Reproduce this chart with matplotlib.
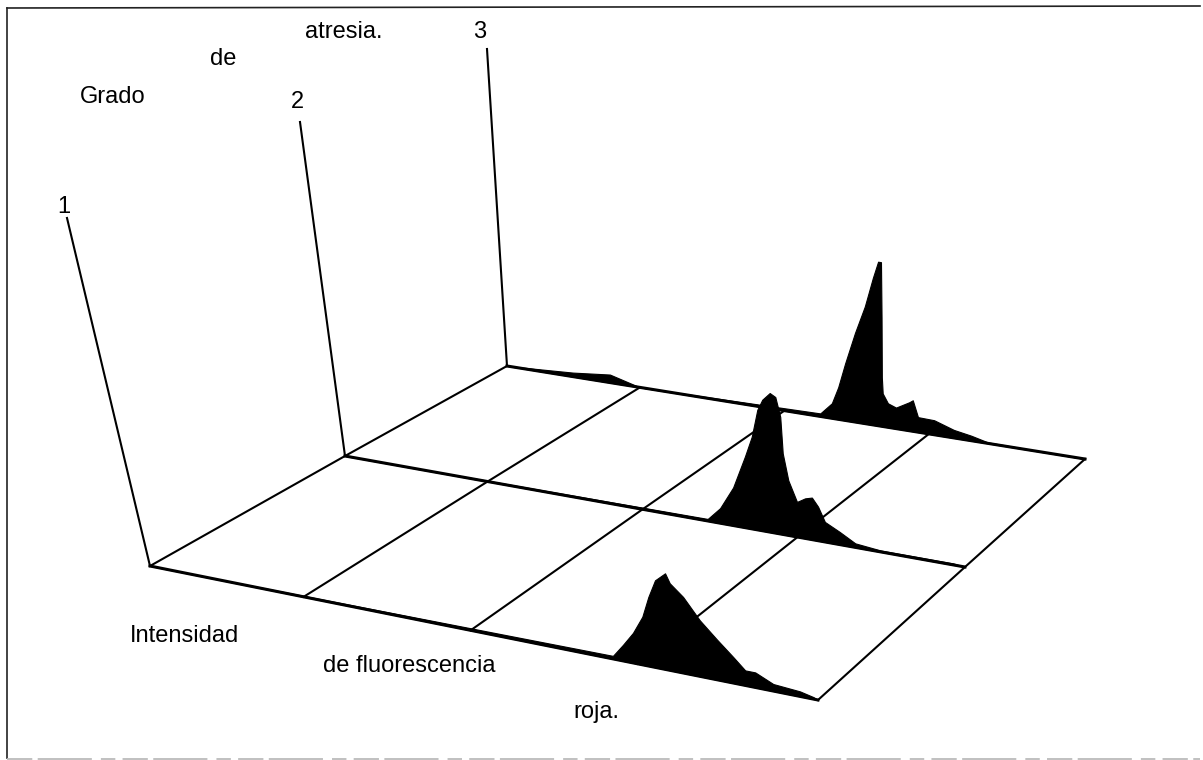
import numpy as np
import matplotlib
matplotlib.use('Agg')
import matplotlib.pyplot as plt

# channel = intensidad de fluorescencia (0-100 along each baseline), counts = peak height
channel_1 = [0, 69.3, 70.8, 72.3, 73.7, 74.6, 75.6, 77.1, 77.8, 79.8, 82.3, 84.9, 87.3, 89.1, 90.6, 93.3, 97.3, 99.3, 100]
counts_1 = [0, 3, 16, 30, 48, 69, 87, 96, 87, 76, 56, 40, 26, 15, 15, 7, 5, 2, 0]

channel_2 = [0, 58.5, 60.5, 62.6, 64.5, 65.6, 66.5, 67.3, 68.5, 69.4, 70.2, 70.6, 71.5, 72.9, 74.2, 75.3, 76.3, 77.4, 79.8, 82.3, 86.3, 98.1, 100]
counts_2 = [0, 2, 15, 38, 71, 92, 120, 131, 139, 136, 117, 81, 55, 35, 40, 42, 34, 20, 12.6, 4, 1.5, 1.5, 0]

channel_3 = [0, 5.7, 11.4, 17.8, 23, 54.2, 56.2, 57.3, 58.5, 60.2, 61.9, 63.3, 64.2, 64.7, 64.8, 64.85, 65.0, 65.9, 67.3, 69.6, 70.2, 71.1, 73.9, 77.3, 80.3, 83.2, 100]
counts_3 = [0, 2, 4, 8, 0, 3, 15, 32, 57, 89, 117, 147, 164, 164, 109, 49, 33, 24, 21, 28.5, 31, 15, 14.5, 8, 5, 1, 0]

grid_channels = [0, 23, 48, 73, 100]
grades = ['1', '2', '3']

# where each grade's baseline sits on the page, and top of its vertical axis
base_start = [(150, 566), (345, 456), (507, 366)]
base_end = [(818, 700), (965, 567), (1085, 459)]
axis_top = [(67, 218), (300, 122), (487, 49)]
grade_label_pos = [(64, 213), (297, 108), (480, 38)]


def project(grade, channel):
    x0, y0 = base_start[grade]
    x1, y1 = base_end[grade]
    t = np.asarray(channel, dtype=float) / 100
    return x0 + (x1 - x0) * t, y0 + (y1 - y0) * t


plt.rcParams['font.family'] = ['Liberation Sans', 'DejaVu Sans']
fig = plt.figure(figsize=(12.03, 7.6), dpi=100)
ax = fig.add_axes([0, 0, 1, 1])
ax.set_xlim(0, 1203)
ax.set_ylim(760, 0)
ax.axis('off')

# frame, the scan loses the bottom edge and the right one
ax.plot([7, 7], [758, 8], color='#222222', lw=1.2)
ax.plot([7, 1200], [8, 6], color='#222222', lw=1.2)
ax.plot([7, 1200], [759, 759], color='#bbbbbb', lw=1.3, dashes=(14, 3, 30, 5, 8, 4))

# floor grid
for c in grid_channels:
    xs, ys = [], []
    for g in range(3):
        x, y = project(g, c)
        xs.append(float(x))
        ys.append(float(y))
    ax.plot(xs, ys, color='black', lw=1.5, zorder=2)

# grade axes
for g in range(3):
    ax.plot([base_start[g][0], axis_top[g][0]], [base_start[g][1], axis_top[g][1]],
            color='black', lw=1.5, zorder=2)
    ax.text(grade_label_pos[g][0], grade_label_pos[g][1], grades[g], fontsize=17,
            ha='center', va='baseline')

# histograms, back to front
for g, channel, counts in [(2, channel_3, counts_3), (1, channel_2, counts_2), (0, channel_1, counts_1)]:
    x, y = project(g, channel)
    ax.fill_between(x, y, y - np.array(counts), color='black', lw=0.8, zorder=3)
    ax.plot(*project(g, [0, 100]), color='black', lw=2.2, zorder=3)

ax.text(80, 103, 'Grado', fontsize=17, ha='left', va='baseline')
ax.text(210, 65, 'de', fontsize=17, ha='left', va='baseline')
ax.text(305, 38, 'atresia.', fontsize=17, ha='left', va='baseline')
ax.text(130, 642, 'Intensidad', fontsize=17, ha='left', va='baseline')
ax.text(323, 672, 'de fluorescencia', fontsize=17, ha='left', va='baseline')
ax.text(573, 718, 'roja.', fontsize=17, ha='left', va='baseline')

fig.savefig('out.png', dpi=100)
